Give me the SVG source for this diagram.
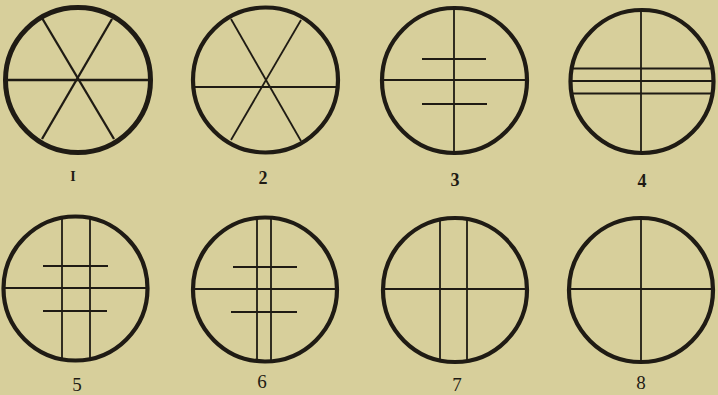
<svg xmlns="http://www.w3.org/2000/svg" width="718" height="395" viewBox="0 0 718 395">
<style>
.bg{fill:#d7cf9b}
.ring{fill:none;stroke:#1f1b14;stroke-width:4.2}
.hair{stroke:#1f1b14;stroke-width:1.8;fill:none}
.thick{stroke:#1f1b14;stroke-width:2.3;fill:none}
.lbl{font-family:"Liberation Serif","DejaVu Serif",serif;font-size:19px;fill:#1f1b14;text-anchor:middle}
.b{font-weight:bold;font-size:18px}
</style>
<rect class="bg" x="0" y="0" width="718" height="395"/>
<g id="reticle1">
<circle class="ring" cx="78" cy="80" r="72.5" style="stroke-width:5"/>
<line class="thick" x1="6" y1="80" x2="150" y2="80"/>
<line class="thick" x1="42" y1="18" x2="114" y2="139"/>
<line class="thick" x1="112" y1="19" x2="42" y2="139"/>
<text class="lbl b" x="73" y="181" style="font-size:14px">I</text>
</g>
<g id="reticle2">
<circle class="ring" cx="265.5" cy="80" r="72.5"/>
<line class="hair" x1="194" y1="87" x2="337" y2="87"/>
<line class="hair" x1="231" y1="19" x2="301" y2="141"/>
<line class="hair" x1="301" y1="20" x2="231" y2="140"/>
<text class="lbl b" x="263" y="184">2</text>
</g>
<g id="reticle3">
<circle class="ring" cx="454.5" cy="80.5" r="72.5"/>
<line class="hair" x1="454" y1="8" x2="454" y2="153"/>
<line class="hair" x1="383" y1="80" x2="526" y2="80"/>
<line class="hair" x1="422" y1="59" x2="486" y2="59"/>
<line class="hair" x1="422" y1="104" x2="487" y2="104"/>
<text class="lbl b" x="455" y="186">3</text>
</g>
<g id="reticle4">
<circle class="ring" cx="642" cy="81.5" r="71.5"/>
<line class="hair" x1="641" y1="10" x2="641" y2="153"/>
<line class="hair" x1="573" y1="68.5" x2="712" y2="68.5"/>
<line class="hair" x1="571" y1="81" x2="713" y2="81"/>
<line class="hair" x1="573" y1="93.5" x2="712" y2="93.5"/>
<text class="lbl b" x="642" y="187">4</text>
</g>
<g id="reticle5">
<circle class="ring" cx="75.5" cy="288.5" r="72"/>
<line class="hair" x1="5" y1="288" x2="146" y2="288"/>
<line class="hair" x1="62" y1="218" x2="62" y2="359"/>
<line class="hair" x1="90" y1="218" x2="90" y2="359"/>
<line class="hair" x1="43" y1="266" x2="108" y2="266"/>
<line class="hair" x1="43" y1="311" x2="107" y2="311"/>
<text class="lbl" x="77" y="391">5</text>
</g>
<g id="reticle6">
<circle class="ring" cx="265" cy="289.5" r="72"/>
<line class="hair" x1="194" y1="289" x2="336" y2="289"/>
<line class="hair" x1="257" y1="218" x2="257" y2="361"/>
<line class="hair" x1="271" y1="218" x2="271" y2="361"/>
<line class="hair" x1="233" y1="267" x2="297" y2="267"/>
<line class="hair" x1="231" y1="312" x2="297" y2="312"/>
<text class="lbl" x="262" y="388">6</text>
</g>
<g id="reticle7">
<circle class="ring" cx="455" cy="290" r="72"/>
<line class="hair" x1="384" y1="289" x2="526" y2="289"/>
<line class="hair" x1="440" y1="219" x2="440" y2="361"/>
<line class="hair" x1="467" y1="219" x2="467" y2="361"/>
<text class="lbl" x="457" y="391">7</text>
</g>
<g id="reticle8">
<circle class="ring" cx="641" cy="290" r="72"/>
<line class="hair" x1="570" y1="289" x2="712" y2="289"/>
<line class="hair" x1="641" y1="219" x2="641" y2="361"/>
<text class="lbl" x="641" y="389">8</text>
</g>
</svg>
